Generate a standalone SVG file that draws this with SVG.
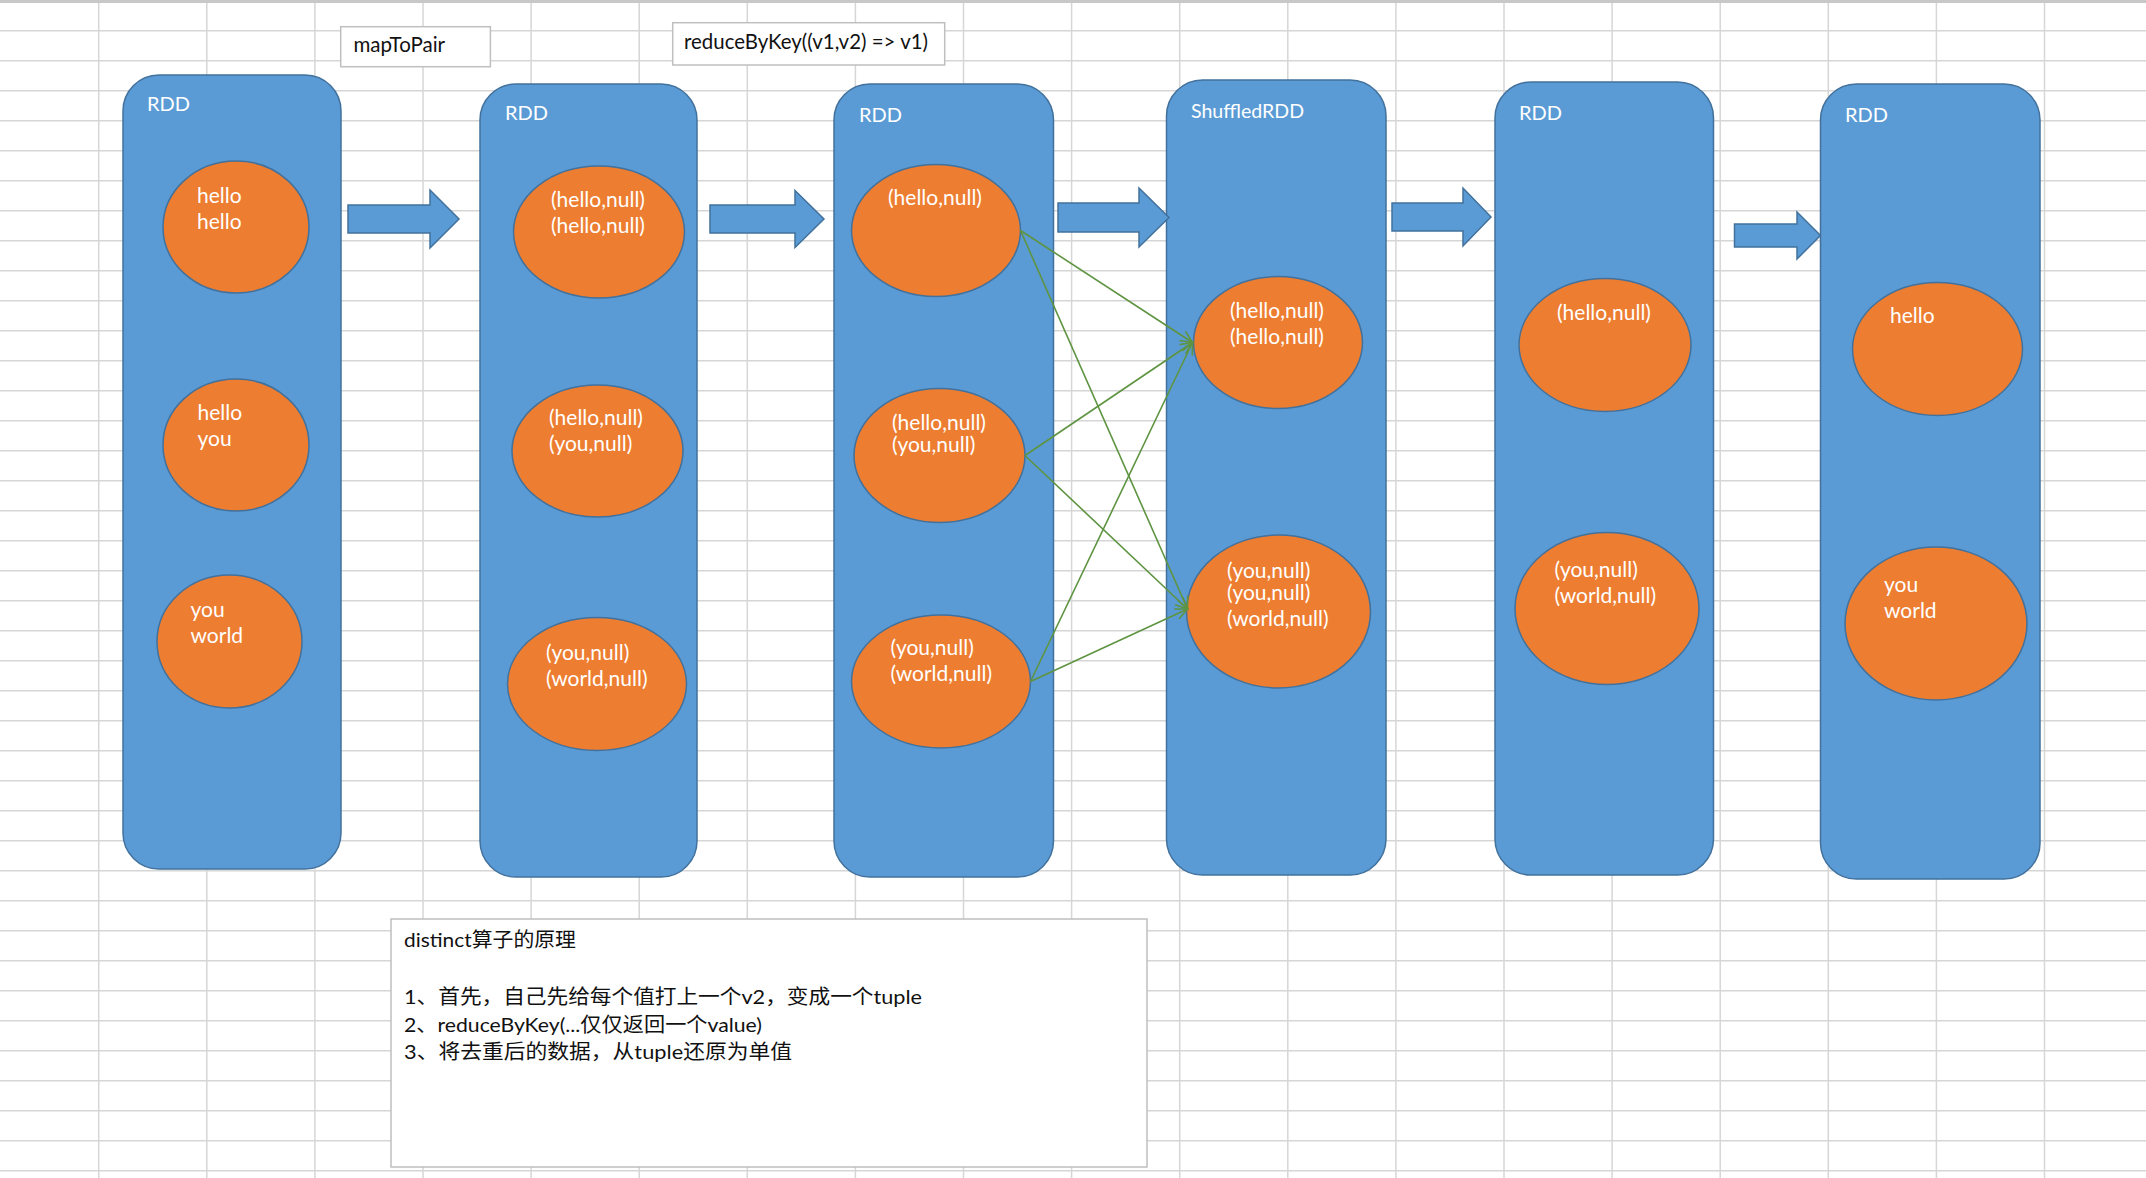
<svg xmlns="http://www.w3.org/2000/svg" width="2146" height="1178" viewBox="0 0 2146 1178">
<defs>
<style>
.grid{stroke:#D6D6D6;stroke-width:1.5;fill:none}
.rdd{fill:#5B9BD5;stroke:#41719C;stroke-width:1.5}
.el{fill:#ED7D31;stroke:#41719C;stroke-width:1.5}
.blk{fill:#5B9BD5;stroke:#41719C;stroke-width:1.5}
.wt{fill:#FFFFFF;font-family:Lato,"Noto Sans",sans-serif;font-size:21px}
.lbl{fill:#FFFFFF;font-family:Lato,"Noto Sans",sans-serif;font-size:20px}
.box{fill:#FFFFFF;stroke:#BFBFBF;stroke-width:1.5}
.bt{fill:#111111;font-family:Lato,"Noto Sans",sans-serif;font-size:20.5px}
.ct{fill:#111111;font-family:Lato,"Noto Sans CJK SC","Noto Sans",sans-serif;font-size:20px}
.con{stroke:#5E9441;stroke-width:1.6;fill:none}
</style>
<marker id="open" markerUnits="userSpaceOnUse" markerWidth="16" markerHeight="14" refX="13" refY="6" orient="auto">
<path d="M1,0.5 L13,6 L1,11.5" fill="none" stroke="#5E9441" stroke-width="1.6"/>
</marker>
</defs>
<rect x="0" y="0" width="2146" height="1178" fill="#FFFFFF"/>
<g id="grid">
<line x1="0" y1="1.5" x2="2146" y2="1.5" stroke="#C8C8C8" stroke-width="3"/>
<path class="grid" d="M0,30.7H2146M0,60.7H2146M0,90.7H2146M0,120.7H2146M0,150.7H2146M0,180.7H2146M0,210.7H2146M0,240.7H2146M0,270.7H2146M0,300.7H2146M0,330.7H2146M0,360.7H2146M0,390.7H2146M0,420.7H2146M0,450.7H2146M0,480.7H2146M0,510.7H2146M0,540.7H2146M0,570.7H2146M0,600.7H2146M0,630.7H2146M0,660.7H2146M0,690.7H2146M0,720.7H2146M0,750.7H2146M0,780.7H2146M0,810.7H2146M0,840.7H2146M0,870.7H2146M0,900.7H2146M0,930.7H2146M0,960.7H2146M0,990.7H2146M0,1020.7H2146M0,1050.7H2146M0,1080.7H2146M0,1110.7H2146M0,1140.7H2146M0,1170.7H2146"/>
<path class="grid" d="M98.7,3V1178M206.8,3V1178M314.9,3V1178M423,3V1178M531.1,3V1178M639.2,3V1178M747.3,3V1178M855.4,3V1178M963.5,3V1178M1071.6,3V1178M1179.7,3V1178M1287.8,3V1178M1395.9,3V1178M1504,3V1178M1612.1,3V1178M1720.2,3V1178M1828.3,3V1178M1936.4,3V1178M2044.5,3V1178"/>
</g>
<g id="label-mapToPair">
<rect class="box" x="340.7" y="26.7" width="149.7" height="40"/>
<text class="bt" x="353.5" y="52">mapToPair</text>
</g>
<g id="label-reduceByKey">
<rect class="box" x="672.7" y="22.7" width="272" height="42.3"/>
<text class="bt" x="684" y="49" textLength="244" lengthAdjust="spacingAndGlyphs">reduceByKey((v1,v2) =&gt; v1)</text>
</g>
<g id="rdd1">
<rect class="rdd" x="123" y="75" width="218" height="794" rx="36" ry="36"/>
<text class="lbl" x="147" y="111">RDD</text>
<ellipse class="el" cx="236" cy="227" rx="73" ry="66"/>
<text class="wt" x="197" y="203">hello</text>
<text class="wt" x="197" y="229">hello</text>
<ellipse class="el" cx="236" cy="445" rx="73" ry="66"/>
<text class="wt" x="197.5" y="420">hello</text>
<text class="wt" x="197.5" y="446">you</text>
<ellipse class="el" cx="229.5" cy="641.5" rx="72.5" ry="66.5"/>
<text class="wt" x="190.5" y="617">you</text>
<text class="wt" x="190.5" y="643">world</text>
</g>
<g id="rdd2">
<rect class="rdd" x="480" y="84" width="217" height="793" rx="36" ry="36"/>
<text class="lbl" x="505" y="120">RDD</text>
<ellipse class="el" cx="599" cy="232" rx="85.5" ry="66"/>
<text class="wt" x="551" y="207">(hello,null)</text>
<text class="wt" x="551" y="233">(hello,null)</text>
<ellipse class="el" cx="597.5" cy="451" rx="85.5" ry="66"/>
<text class="wt" x="549" y="425">(hello,null)</text>
<text class="wt" x="549" y="451">(you,null)</text>
<ellipse class="el" cx="597" cy="684" rx="89.5" ry="66.5"/>
<text class="wt" x="546" y="660">(you,null)</text>
<text class="wt" x="546" y="686">(world,null)</text>
</g>
<g id="rdd3">
<rect class="rdd" x="834" y="84" width="219.5" height="793" rx="36" ry="36"/>
<text class="lbl" x="859" y="122">RDD</text>
<ellipse class="el" cx="936" cy="230.5" rx="84.5" ry="66"/>
<text class="wt" x="888" y="205">(hello,null)</text>
<ellipse class="el" cx="939.5" cy="455.5" rx="85.5" ry="67"/>
<text class="wt" x="892" y="430">(hello,null)</text>
<text class="wt" x="892" y="452">(you,null)</text>
<ellipse class="el" cx="941" cy="681.5" rx="89.5" ry="66.5"/>
<text class="wt" x="890.5" y="655">(you,null)</text>
<text class="wt" x="890.5" y="681">(world,null)</text>
</g>
<g id="shuffled-rdd">
<rect class="rdd" x="1166.5" y="80" width="219.5" height="795" rx="36" ry="36"/>
<text class="lbl" x="1191" y="118" textLength="113" lengthAdjust="spacingAndGlyphs">ShuffledRDD</text>
<ellipse class="el" cx="1278" cy="342.5" rx="84.5" ry="66"/>
<text class="wt" x="1230" y="318">(hello,null)</text>
<text class="wt" x="1230" y="344">(hello,null)</text>
<ellipse class="el" cx="1278.5" cy="611.5" rx="92" ry="76.5"/>
<text class="wt" x="1227" y="578">(you,null)</text>
<text class="wt" x="1227" y="600">(you,null)</text>
<text class="wt" x="1227" y="626">(world,null)</text>
</g>
<g id="rdd5">
<rect class="rdd" x="1495" y="82" width="218.5" height="793" rx="36" ry="36"/>
<text class="lbl" x="1519" y="120">RDD</text>
<ellipse class="el" cx="1605" cy="345" rx="86" ry="66.5"/>
<text class="wt" x="1557" y="320">(hello,null)</text>
<ellipse class="el" cx="1607" cy="608.5" rx="92" ry="76"/>
<text class="wt" x="1554.5" y="577">(you,null)</text>
<text class="wt" x="1554.5" y="603">(world,null)</text>
</g>
<g id="rdd6">
<rect class="rdd" x="1820.5" y="84" width="219.5" height="795" rx="36" ry="36"/>
<text class="lbl" x="1845" y="122">RDD</text>
<ellipse class="el" cx="1937.5" cy="349" rx="85" ry="66.5"/>
<text class="wt" x="1890" y="323">hello</text>
<ellipse class="el" cx="1936" cy="623.5" rx="91" ry="76.5"/>
<text class="wt" x="1884" y="592">you</text>
<text class="wt" x="1884" y="618">world</text>
</g>
<g id="connectors">
<polygon class="blk" points="348,205 430,205 430,190 459,219 430,248 430,233 348,233"/>
<polygon class="blk" points="710,205 795,205 795,190.5 824,219 795,247.5 795,233 710,233"/>
<polygon class="blk" points="1058,203 1139,203 1139,188 1169,217.5 1139,247 1139,232 1058,232"/>
<polygon class="blk" points="1392,203 1463,203 1463,188 1491,217 1463,246 1463,231 1392,231"/>
<polygon class="blk" points="1734.5,224 1797,224 1797,212 1820.5,235.5 1797,259 1797,247 1734.5,247"/>
<line class="con" x1="1020.5" y1="230.5" x2="1192.5" y2="342.5" marker-end="url(#open)"/>
<line class="con" x1="1020.5" y1="230.5" x2="1187.5" y2="609" marker-end="url(#open)"/>
<line class="con" x1="1025" y1="455.5" x2="1192.5" y2="342.5" marker-end="url(#open)"/>
<line class="con" x1="1025" y1="455.5" x2="1187.5" y2="609" marker-end="url(#open)"/>
<line class="con" x1="1030.5" y1="681.5" x2="1192.5" y2="342.5" marker-end="url(#open)"/>
<line class="con" x1="1030.5" y1="681.5" x2="1187.5" y2="609" marker-end="url(#open)"/>
</g>
<g id="note">
<rect class="box" x="391" y="919" width="756" height="248"/>
<text class="ct" x="404" y="947" textLength="172" lengthAdjust="spacingAndGlyphs">distinct算子的原理</text>
<text class="ct" x="404" y="1004" textLength="518" lengthAdjust="spacingAndGlyphs">1、首先，自己先给每个值打上一个v2，变成一个tuple</text>
<text class="ct" x="404" y="1032" textLength="358" lengthAdjust="spacingAndGlyphs">2、reduceByKey(...仅仅返回一个value)</text>
<text class="ct" x="404" y="1059" textLength="388" lengthAdjust="spacingAndGlyphs">3、将去重后的数据，从tuple还原为单值</text>
</g>
</svg>
